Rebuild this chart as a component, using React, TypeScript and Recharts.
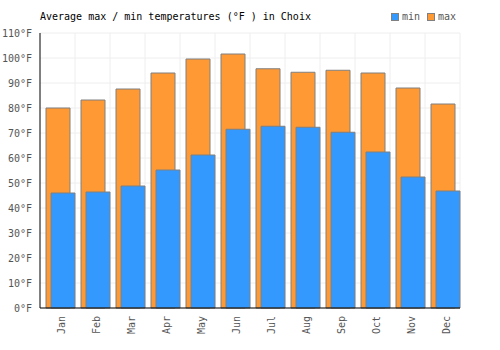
import { BarChart, Bar, XAxis, YAxis, CartesianGrid, Rectangle } from 'recharts'

const months = ['Jan', 'Feb', 'Mar', 'Apr', 'May', 'Jun', 'Jul', 'Aug', 'Sep', 'Oct', 'Nov', 'Dec']
const maxTemps = [80, 83.2, 87.6, 94, 99.6, 101.6, 95.7, 94.3, 95.1, 94, 88, 81.6]
const minTemps = [46, 46.4, 48.8, 55.2, 61.2, 71.5, 72.7, 72.3, 70.3, 62.4, 52.4, 46.8]
const yTicks = [0, 10, 20, 30, 40, 50, 60, 70, 80, 90, 100, 110]

const data = months.map((m, i) => ({ month: m, max: maxTemps[i], min: minTemps[i] }))

const FONT = '"DejaVu Sans Mono", monospace'
const ORANGE = '#FF9933'
const BLUE = '#3399FF'
const BORDER = '#808080'

// bars are drawn a little right of centre in the original
const shifted = (props: any) => <Rectangle {...props} x={props.x + 3} />

export default function App() {
  return (
    <div style={{ position: 'absolute', left: 0, top: 0, width: 500, height: 350, background: '#fff', fontFamily: FONT }}>
      <div style={{ position: 'absolute', left: 40, top: 11, fontSize: 10, color: '#000' }}>
        Average max / min temperatures (°F ) in Choix
      </div>
      <div style={{ position: 'absolute', left: 391, top: 11, fontSize: 10, color: '#555', display: 'flex', alignItems: 'center' }}>
        <span style={{ display: 'inline-block', width: 6, height: 6, background: BLUE, border: `1px solid ${BORDER}`, marginRight: 3 }} />
        <span style={{ marginRight: 7 }}>min</span>
        <span style={{ display: 'inline-block', width: 6, height: 6, background: ORANGE, border: `1px solid ${BORDER}`, marginRight: 3 }} />
        <span>max</span>
      </div>
      <BarChart
        width={500}
        height={350}
        data={data}
        margin={{ top: 33, right: 40, bottom: 0, left: 0 }}
        barGap={-19}
        barCategoryGap={0}
      >
        <CartesianGrid
          stroke="#eeeeee"
          verticalCoordinatesGenerator={({ offset }: any) =>
            months.map((_, i) => offset.left + ((i + 1) * offset.width) / months.length)
          }
        />
        <XAxis
          dataKey="month"
          height={42}
          axisLine={{ stroke: '#000' }}
          tickLine={false}
          interval={0}
          angle={-90}
          textAnchor="end"
          tick={{ fontSize: 10, fill: '#555', fontFamily: FONT }}
        />
        <YAxis
          width={40}
          domain={[0, 110]}
          ticks={yTicks}
          tickFormatter={(v: number) => `${v}°F`}
          axisLine={{ stroke: '#000' }}
          tickLine={false}
          tick={{ fontSize: 10, fill: '#555', fontFamily: FONT }}
        />
        <Bar dataKey="max" fill={ORANGE} stroke={BORDER} strokeWidth={1} barSize={24} shape={shifted} isAnimationActive={false} />
        <Bar dataKey="min" fill={BLUE} stroke={BORDER} strokeWidth={1} barSize={24} shape={shifted} isAnimationActive={false} />
      </BarChart>
    </div>
  )
}
